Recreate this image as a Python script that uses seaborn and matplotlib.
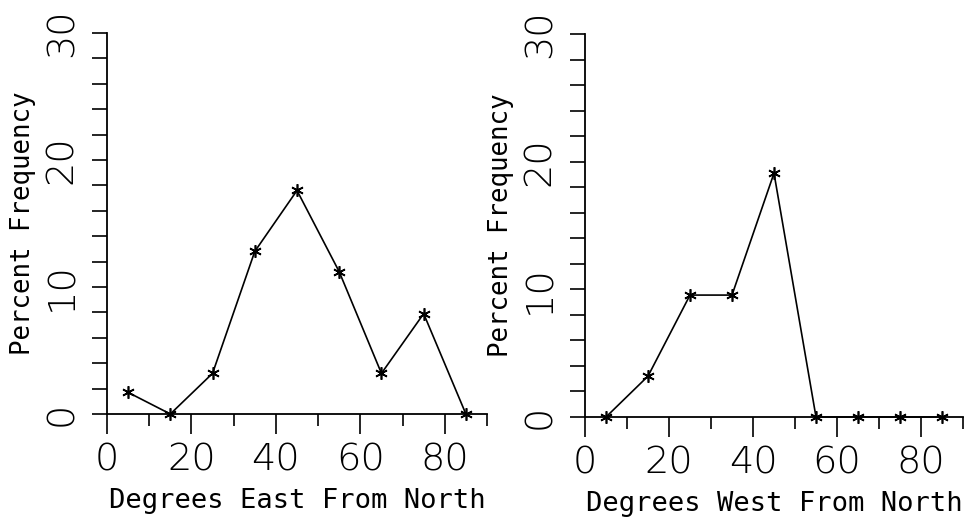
import matplotlib
matplotlib.use("Agg")
import matplotlib.pyplot as plt
import seaborn as sns
import pandas as pd
from matplotlib.ticker import MultipleLocator, FixedLocator

sns.set_theme(style="white")
plt.rcParams['font.family'] = ['DejaVu Sans']

degrees = [5, 15, 25, 35, 45, 55, 65, 75, 85]
east_pct = [1.7, 0.0, 3.2, 12.8, 17.6, 11.2, 3.2, 7.9, 0.0]
west_pct = [0.0, 3.2, 9.55, 9.55, 19.1, 0.0, 0.0, 0.0, 0.0]
x_ticklabels = ["0", "20", "40", "60", "80"]
y_ticklabels = ["0", "10", "20", "30"]
x_labels = ["Degrees East From North", "Degrees West From North"]
y_label = "Percent Frequency"

fig = plt.figure(figsize=(9.71, 5.27), dpi=100)
ax1 = fig.add_axes([107/971, (527-414)/527, 380/971, 381/527])
ax2 = fig.add_axes([585/971, (527-417)/527, 378/971, 383/527])

for ax, vals, xl in [(ax1, east_pct, x_labels[0]), (ax2, west_pct, x_labels[1])]:
    df = pd.DataFrame({"deg": degrees, "pct": vals})
    sns.lineplot(data=df, x="deg", y="pct", ax=ax, color="black", linewidth=1.2,
                 marker=(6, 2, 0), markersize=9, markeredgewidth=1.2,
                 markeredgecolor="black", markerfacecolor="black", clip_on=False)
    ax.set_xlim(0, 90)
    ax.set_ylim(0, 30)
    for s in ["top", "right"]:
        ax.spines[s].set_visible(False)
    for s in ["left", "bottom"]:
        ax.spines[s].set_color("black")
        ax.spines[s].set_linewidth(1.3)
    ax.xaxis.set_major_locator(FixedLocator([0, 20, 40, 60, 80]))
    ax.xaxis.set_minor_locator(FixedLocator([10, 30, 50, 70, 90]))
    ax.set_xticklabels(x_ticklabels)
    ax.yaxis.set_major_locator(FixedLocator([0, 10, 20, 30]))
    ax.yaxis.set_minor_locator(MultipleLocator(2))
    ax.set_yticklabels(y_ticklabels, rotation=90, va="center")
    ax.tick_params(axis="x", which="major", direction="out", length=14.4, width=1.2,
                   color="black", bottom=True, pad=6, labelsize=27.5, labelcolor="black")
    ax.tick_params(axis="x", which="minor", direction="out", length=8.6, width=1.2,
                   color="black", bottom=True)
    ax.tick_params(axis="y", which="major", direction="out", length=11, width=1.2,
                   color="black", left=True, pad=9, labelsize=27.5, labelcolor="black")
    ax.tick_params(axis="y", which="minor", direction="out", length=11, width=1.2,
                   color="black", left=True)
    for lab in ax.get_xticklabels() + ax.get_yticklabels():
        lab.set_fontweight("light")
    ax.set_xlabel(xl, fontsize=19.5, color="black", labelpad=8, fontfamily="DejaVu Sans Mono")
    ax.set_ylabel(y_label, fontsize=18.5, color="black", labelpad=6, fontfamily="DejaVu Sans Mono")
    ax.set_facecolor("white")

fig.savefig("out.png", dpi=100, facecolor="white")
